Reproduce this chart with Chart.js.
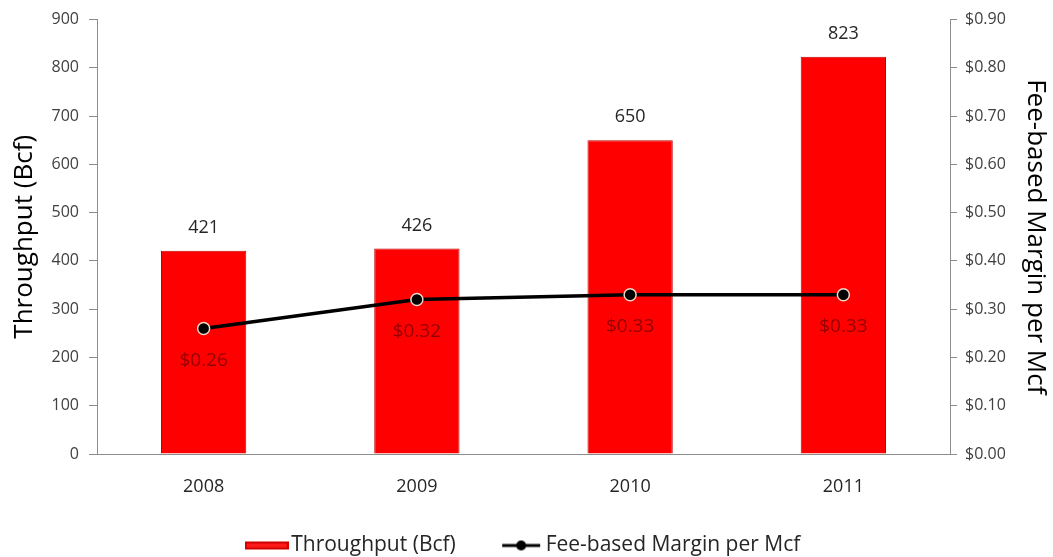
<!DOCTYPE html>
<html>
<head>
<meta charset="utf-8">
<script src="https://cdn.jsdelivr.net/npm/chart.js@4.4.1/dist/chart.umd.min.js"></script>
<style>
  html, body { margin: 0; padding: 0; background: #ffffff; }
  #wrap { width: 1053px; height: 557px; }
</style>
</head>
<body>
<div id="wrap"><canvas id="chart" width="1053" height="557"></canvas></div>
<script>
// values
const years = ['2008', '2009', '2010', '2011'];
const throughput = [421, 426, 650, 823];
const margin = [0.26, 0.32, 0.33, 0.33];
const leftTicks = [0, 100, 200, 300, 400, 500, 600, 700, 800, 900];
const rightTicks = [0, 0.1, 0.2, 0.3, 0.4, 0.5, 0.6, 0.7, 0.8, 0.9];

const FONT = '"Open Sans", "Liberation Sans", sans-serif';
const axisGrey = '#8c8c8c';

// bevelled red fill for the bars
function barFill(context) {
  const el = context.element;
  const c = context.chart.ctx;
  if (!el || el.width === undefined) return '#ff0000';
  const x0 = el.x - el.width / 2;
  const g = c.createLinearGradient(x0, 0, x0 + el.width, 0);
  g.addColorStop(0, '#b00000');
  g.addColorStop(0.07, '#ff0000');
  g.addColorStop(0.92, '#ff0000');
  g.addColorStop(1, '#900000');
  return g;
}

// legend swatches (drawn wider than the legend box so the text sits close)
function swatchBar() {
  const cv = document.createElement('canvas');
  cv.width = 44; cv.height = 10;
  const c = cv.getContext('2d');
  c.fillStyle = '#d00000';
  c.fillRect(0, 1, 44, 8);
  c.fillStyle = '#ff1a1a';
  c.fillRect(2, 3, 40, 4);
  return cv;
}
function swatchLine() {
  const cv = document.createElement('canvas');
  cv.width = 44; cv.height = 14;
  const c = cv.getContext('2d');
  c.strokeStyle = '#000'; c.lineWidth = 3;
  c.beginPath(); c.moveTo(3, 7); c.lineTo(41, 7); c.stroke();
  c.fillStyle = '#000';
  c.beginPath(); c.arc(22, 7, 5, 0, Math.PI * 2); c.fill();
  return cv;
}

const valueLabels = {
  id: 'valueLabels',
  afterDatasetsDraw(chart) {
    const c = chart.ctx;
    c.save();
    c.textAlign = 'center';
    c.textBaseline = 'middle';
    c.font = '18px ' + FONT;
    c.fillStyle = '#262626';
    chart.getDatasetMeta(0).data.forEach((bar, i) => {
      c.fillText(String(throughput[i]), bar.x, bar.y - 23);
    });
    c.font = '19px ' + FONT;
    c.fillStyle = 'rgba(120,0,0,0.8)';
    chart.getDatasetMeta(1).data.forEach((pt, i) => {
      c.fillText('$' + margin[i].toFixed(2), pt.x, pt.y + 32);
    });
    c.restore();
  }
};

new Chart(document.getElementById('chart'), {
  data: {
    labels: years,
    datasets: [
      {
        type: 'bar',
        label: 'Throughput (Bcf)',
        data: throughput,
        yAxisID: 'y',
        backgroundColor: barFill,
        borderColor: '#c00000',
        borderWidth: 1,
        barPercentage: 0.8,
        categoryPercentage: 0.5,
        order: 2
      },
      {
        type: 'line',
        label: 'Fee-based Margin per Mcf',
        data: margin,
        yAxisID: 'y1',
        borderColor: '#000000',
        borderWidth: 3.5,
        pointRadius: 6,
        pointBackgroundColor: '#000000',
        pointBorderColor: '#f0d8c8',
        pointBorderWidth: 1.5,
        tension: 0,
        order: 1
      }
    ]
  },
  options: {
    responsive: false,
    animation: false,
    layout: { padding: { top: 15, bottom: -9 } },
    plugins: {
      legend: {
        position: 'bottom',
        labels: {
          font: { family: FONT, size: 21 },
          color: '#262626',
          usePointStyle: true,
          pointStyleWidth: 28,
          boxHeight: 14,
          padding: 35,
          generateLabels() {
            // trailing spaces widen the gap between the two entries
            return [
              { text: 'Throughput (Bcf)   ', pointStyle: swatchBar(), datasetIndex: 0, fontColor: '#262626' },
              { text: 'Fee-based Margin per Mcf', pointStyle: swatchLine(), datasetIndex: 1, fontColor: '#262626' }
            ];
          }
        }
      },
      tooltip: { enabled: false }
    },
    scales: {
      x: {
        grid: { display: false },
        border: { color: axisGrey },
        ticks: { font: { family: FONT, size: 18 }, color: '#262626', padding: 14 },
        afterFit(scale) { scale.height = 46; }
      },
      y: {
        position: 'left',
        min: 0, max: 900,
        afterBuildTicks(scale) { scale.ticks = leftTicks.map(v => ({ value: v })); },
        grid: { drawOnChartArea: false, tickLength: 8, color: axisGrey },
        border: { color: axisGrey },
        ticks: { font: { family: FONT, size: 16 }, color: '#404040', padding: 10 },
        title: {
          display: true, text: 'Throughput (Bcf)',
          font: { family: FONT, size: 26 }, color: '#000000',
          padding: { top: 9, bottom: 0 }
        },
        afterFit(scale) { scale.width = 97; }
      },
      y1: {
        position: 'right',
        min: 0, max: 0.9,
        afterBuildTicks(scale) { scale.ticks = rightTicks.map(v => ({ value: v })); },
        grid: { drawOnChartArea: false, tickLength: 7, color: axisGrey },
        border: { color: axisGrey },
        ticks: {
          font: { family: FONT, size: 16 }, color: '#404040', padding: 8,
          callback: v => '$' + Number(v).toFixed(2)
        },
        title: {
          display: true, text: 'Fee-based Margin per Mcf',
          font: { family: FONT, size: 26 }, color: '#000000',
          padding: { top: 2, bottom: 0 }
        },
        afterFit(scale) { scale.width = 103; }
      }
    }
  },
  plugins: [valueLabels]
});
</script>
</body>
</html>
